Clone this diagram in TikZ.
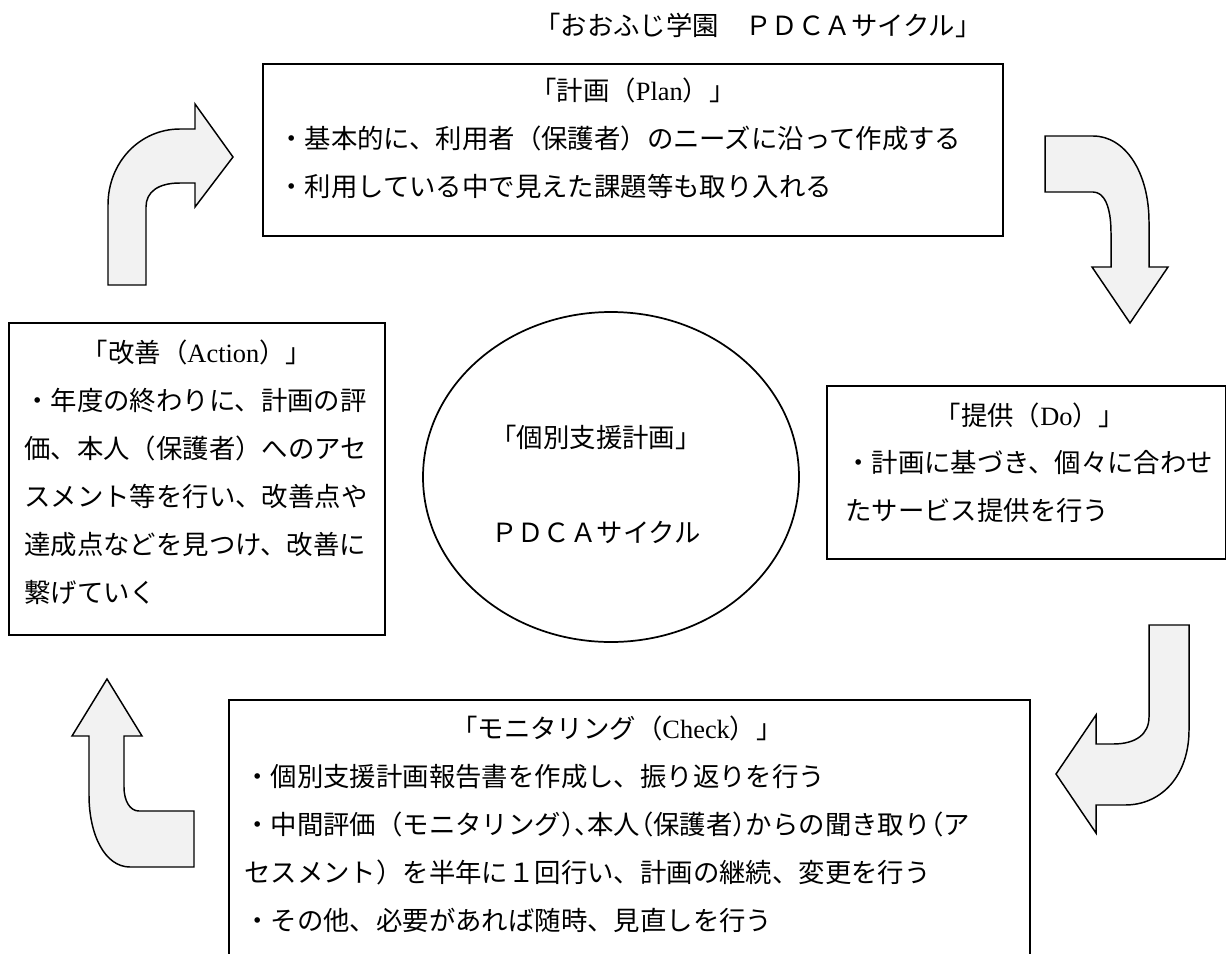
\documentclass[tikz,border=0pt]{standalone}
\usepackage{fontspec}
\usetikzlibrary{shapes.geometric,fit}
\newfontfamily\jpf{Noto Sans CJK JP}
\newfontfamily\jph[RawFeature=+halt]{Noto Sans CJK JP}
\newfontfamily\latf{Liberation Serif}
\newcommand\lt[1]{{\latf #1}}
\newcommand\hw[1]{{\jph #1}}
\tikzset{
  boxnode/.style={draw, line width=1.3pt, inner sep=0pt},
  bentarrow/.style={draw, fill=gray!10, line width=1.1pt, line join=miter},
  linetext/.style={inner sep=0pt, anchor=base west, font=\jpf\fontsize{19.8}{24}\selectfont},
  titletext/.style={inner sep=0pt, anchor=base, font=\jpf\fontsize{19.8}{24}\selectfont},
}
\begin{document}
\begin{tikzpicture}[x=0.75pt,y=-0.75pt]
\useasboundingbox (0,0) rectangle (1226,953);
\clip (0,0) rectangle (1226,953);
\fill[white] (0,0) rectangle (1226,953);

% heading
\node[linetext] (head) at (534,35) {「おおふじ学園　ＰＤＣＡサイクル」};

% boxes
\node[boxnode, fit={(263,64) (1003,236)}] (plan) {};
\node[boxnode, fit={(9,323) (385,635)}] (action) {};
\node[boxnode, fit={(827,386) (1226,559)}] (do) {};
\node[boxnode, fit={(229,700) (1030,965)}] (check) {};
\node[draw, ellipse, line width=1.3pt, minimum width=376*0.75pt, minimum height=330*0.75pt, inner sep=0pt] (core) at (611,477) {};

% plan text
\node[titletext] (plant) at (633,100) {「計画（\lt{Plan}）」};
\node[linetext] (plan1) at (278,148) {・基本的に、利用者（保護者）のニーズに沿って作成する};
\node[linetext] (plan2) at (278,196) {・利用している中で見えた課題等も取り入れる};

% action text
\node[titletext] (actt) at (197,362) {「改善（\lt{Action}）」};
\node[linetext] (act1) at (24,410) {・年度の終わりに、計画の評};
\node[linetext] (act2) at (24,458) {価、本人（保護者）へのアセ};
\node[linetext] (act3) at (24,506) {スメント等を行い、改善点や};
\node[linetext] (act4) at (24,554) {達成点などを見つけ、改善に};
\node[linetext] (act5) at (24,602) {繋げていく};

% do text
\node[titletext] (dot) at (1030,425) {「提供（\lt{Do}）」};
\node[linetext] (do1) at (845,472) {・計画に基づき、個々に合わせ};
\node[linetext] (do2) at (845,520) {たサービス提供を行う};

% check text
\node[titletext] (chkt) at (617,738) {「モニタリング（\lt{Check}）」};
\node[linetext] (chk1) at (244,786) {・個別支援計画報告書を作成し、振り返りを行う};
\node[linetext] (chk2) at (244,834) {・中間評価（モニタリング\hw{）、}本人\hw{（}保護者\hw{）}からの聞き取り\hw{（}ア};
\node[linetext] (chk3) at (244,882) {セスメント）を半年に１回行い、計画の継続、変更を行う};
\node[linetext] (chk4) at (244,930) {・その他、必要があれば随時、見直しを行う};

% core text
\node[titletext] (core1) at (596,447) {「個別支援計画」};
\node[titletext] (core2) at (596,542) {ＰＤＣＡサイクル};

% bent arrows
\draw[bentarrow] (108,285) -- (108,205) .. controls (108,162) and (140,129) .. (180,129)
  -- (195,129) -- (195,104) -- (233,157) -- (195,207) -- (195,183) -- (180,183)
  .. controls (158,183) and (146,192) .. (146,207) -- (146,285) -- cycle;
\draw[bentarrow] (1045,136) -- (1093,136) .. controls (1125,136) and (1149,172) .. (1149,222)
  -- (1149,267) -- (1168,267) -- (1130,323) -- (1092,267) -- (1111,267) -- (1111,233)
  .. controls (1111,206) and (1104,192) .. (1093,192) -- (1045,192) -- cycle;
\draw[bentarrow] (1149,625) -- (1189,625) -- (1189,730) .. controls (1189,775) and (1162,805) .. (1125,805)
  -- (1096,805) -- (1096,833) -- (1056,774) -- (1096,715) -- (1096,744) -- (1113,744)
  .. controls (1136,744) and (1149,734) .. (1149,717) -- cycle;
\draw[bentarrow] (194,811) -- (194,867) -- (130,867) .. controls (105,867) and (89,835) .. (89,795)
  -- (89,736) -- (72,736) -- (107,679) -- (142,736) -- (124,736) -- (124,787)
  .. controls (124,801) and (130,811) .. (139,811) -- cycle;
\end{tikzpicture}
\end{document}
